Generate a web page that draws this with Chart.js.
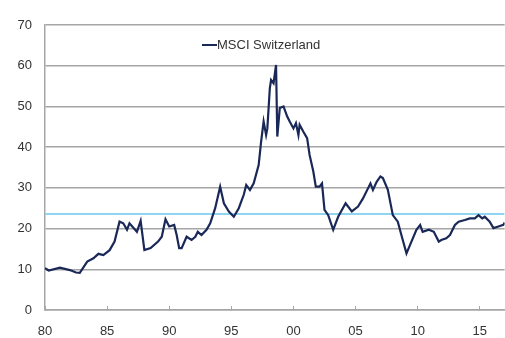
<!DOCTYPE html>
<html>
<head>
<meta charset="utf-8">
<title>MSCI Switzerland</title>
<script src="https://cdn.jsdelivr.net/npm/chart.js@4/dist/chart.umd.min.js"></script>
<style>
  html, body { margin: 0; padding: 0; background: #ffffff; }
  canvas { display: block; }
</style>
</head>
<body>
<canvas id="msciChart" width="505" height="338"></canvas>
<script>
// ----- Data -----
const years = [
    1980.0, 1980.3, 1981.2, 1982.0, 1982.5, 1982.8, 1983.4, 1983.9, 1984.3, 1984.7,
    1985.2, 1985.6, 1986.0, 1986.3, 1986.6, 1986.8, 1987.4, 1987.7, 1988.0, 1988.5,
    1989.1, 1989.4, 1989.7, 1990.0, 1990.4, 1990.6, 1990.8, 1991.0, 1991.4, 1991.8,
    1992.1, 1992.3, 1992.6, 1993.0, 1993.3, 1993.7, 1994.1, 1994.4, 1994.8, 1995.2,
    1995.6, 1996.0, 1996.2, 1996.5, 1996.8, 1997.2, 1997.4, 1997.6, 1997.8, 1997.9,
    1998.1, 1998.2, 1998.4, 1998.6, 1998.7, 1998.9, 1999.2, 1999.5, 1999.7, 2000.0,
    2000.2, 2000.4, 2000.5, 2000.8, 2001.1, 2001.3, 2001.6, 2001.8, 2002.1, 2002.3,
    2002.5, 2002.8, 2003.2, 2003.6, 2004.2, 2004.7, 2005.2, 2005.6, 2006.2, 2006.4,
    2006.7, 2007.0, 2007.2, 2007.6, 2008.0, 2008.4, 2008.8, 2009.1, 2009.5, 2009.9,
    2010.2, 2010.4, 2010.9, 2011.3, 2011.7, 2011.9, 2012.3, 2012.6, 2013.0, 2013.3,
    2013.8, 2014.2, 2014.6, 2014.9, 2015.2, 2015.4, 2015.8, 2016.1, 2016.5, 2016.9,
    2017.0
];
const msciValues = [
    10.3, 9.7, 10.4, 9.8, 9.2, 9.1, 11.9, 12.7, 13.8, 13.5,
    14.7, 16.8, 21.7, 21.3, 19.7, 21.3, 19.2, 21.9, 14.7, 15.2,
    16.8, 18.0, 22.3, 20.5, 20.9, 18.4, 15.2, 15.2, 18.0, 17.2,
    18.0, 19.2, 18.4, 19.7, 21.3, 25.0, 30.3, 26.2, 24.2, 22.9,
    25.0, 28.3, 30.7, 29.5, 31.1, 35.6, 41.4, 46.3, 43.0, 44.6,
    54.5, 56.5, 55.7, 60.2, 42.6, 49.6, 50.0, 47.5, 46.3, 44.6,
    45.9, 43.0, 45.5, 43.8, 42.2, 38.1, 34.0, 30.3, 30.3, 31.1,
    24.6, 23.3, 19.7, 22.9, 26.2, 24.2, 25.4, 27.4, 31.1, 29.5,
    31.5, 32.8, 32.4, 29.5, 23.3, 21.7, 17.2, 13.9, 16.8, 19.7,
    20.9, 19.2, 19.7, 19.2, 16.8, 17.2, 17.6, 18.4, 20.9, 21.7,
    22.1, 22.5, 22.5, 23.3, 22.5, 22.9, 21.7, 20.1, 20.5, 20.9,
    21.5
];
const averageValue = 23.6;
const xRange = [1980, 2017];
const yTicks = [0, 10, 20, 30, 40, 50, 60, 70];
const seriesName = 'MSCI Switzerland';

// ----- Colours -----
const navy = '#1a2858';
const avgBlue = '#8fd4f0';
const gridGray = '#a6a6a6';
const textColor = '#333333';
const fontFamily = 'Liberation Sans, Arial, sans-serif';

const seriesPoints = years.map(function (yr, i) {
    return { x: yr, y: msciValues[i] };
});
const averagePoints = xRange.map(function (yr) {
    return { x: yr, y: averageValue };
});

// Legend sits inside the plot, a bit left of centre
const insideLegend = {
    id: 'insideLegend',
    afterDraw: function (chart) {
        const ctx = chart.ctx;
        const area = chart.chartArea;
        const x = area.left + 157;
        const y = area.top + 20;
        ctx.save();
        ctx.strokeStyle = navy;
        ctx.lineWidth = 2;
        ctx.beginPath();
        ctx.moveTo(x, y);
        ctx.lineTo(x + 15, y);
        ctx.stroke();
        ctx.fillStyle = textColor;
        ctx.font = '13px ' + fontFamily;
        ctx.textBaseline = 'middle';
        ctx.textAlign = 'left';
        ctx.fillText(seriesName, x + 15, y + 0.5);
        ctx.restore();
    }
};

new Chart(document.getElementById('msciChart'), {
    type: 'line',
    data: {
        datasets: [
            {
                label: seriesName,
                data: seriesPoints,
                borderColor: navy,
                backgroundColor: navy,
                borderWidth: 2.2,
                pointRadius: 0,
                tension: 0
            },
            {
                label: 'Average',
                data: averagePoints,
                borderColor: avgBlue,
                backgroundColor: avgBlue,
                borderWidth: 2,
                pointRadius: 0
            }
        ]
    },
    options: {
        responsive: false,
        animation: false,
        devicePixelRatio: 1,
        layout: { padding: { top: 25, right: 0, bottom: 0, left: 0 } },
        plugins: {
            tooltip: { enabled: false },
            legend: { display: false }
        },
        scales: {
            x: {
                type: 'linear',
                min: xRange[0],
                max: xRange[1],
                afterFit: function (scale) { scale.height = 28; },
                border: { display: true, color: gridGray, width: 1.5 },
                grid: {
                    drawOnChartArea: false,
                    drawTicks: true,
                    tickLength: -4,
                    color: gridGray,
                    lineWidth: 1
                },
                ticks: {
                    stepSize: 5,
                    includeBounds: false,
                    maxRotation: 0,
                    padding: 18,
                    color: textColor,
                    font: { family: fontFamily, size: 13 },
                    callback: function (value) {
                        return String(value % 100).padStart(2, '0');
                    }
                }
            },
            y: {
                min: yTicks[0],
                max: yTicks[yTicks.length - 1],
                afterFit: function (scale) { scale.width = 45; },
                afterBuildTicks: function (scale) {
                    scale.ticks = yTicks.map(function (v) { return { value: v }; });
                },
                border: { display: true, color: gridGray, width: 1.5 },
                grid: {
                    drawTicks: false,
                    color: gridGray,
                    lineWidth: 1.5
                },
                ticks: {
                    padding: 13,
                    color: textColor,
                    font: { family: fontFamily, size: 13 }
                }
            }
        }
    },
    plugins: [insideLegend]
});
</script>
</body>
</html>
